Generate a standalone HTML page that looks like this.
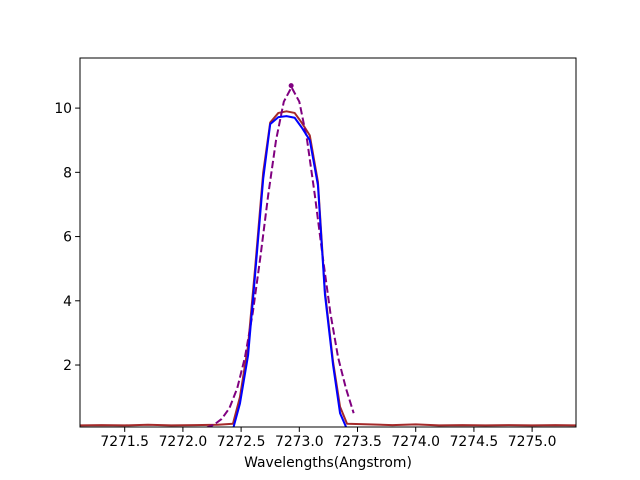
<!DOCTYPE html>
<html><head><meta charset="utf-8"><style>
html,body{margin:0;padding:0;background:#fff;}
svg{display:block;font-family:"DejaVu Sans","Liberation Sans",sans-serif;}
</style></head><body>
<svg id="chart" width="640" height="480">
<rect width="640" height="480" fill="#fff"/>
<g id="plot"></g>
<rect x="80" y="58" width="496" height="369" fill="none" stroke="#000" stroke-width="1"/>
<g id="axes"></g>
<text x="328" y="467" text-anchor="middle" font-size="13.9">Wavelengths(Angstrom)</text>
</svg>
<script>
const xTicks = [7271.5, 7272.0, 7272.5, 7273.0, 7273.5, 7274.0, 7274.5, 7275.0];
const yTicks = [2, 4, 6, 8, 10];
const redW = [7271.12,7271.3,7271.5,7271.7,7271.9,7272.1,7272.3,7272.43,7272.49,7272.56,7272.62,7272.69,7272.75,7272.82,7272.89,7272.96,7273.02,7273.09,7273.16,7273.22,7273.29,7273.35,7273.41,7273.6,7273.8,7274.0,7274.2,7274.4,7274.6,7274.8,7275.0,7275.2,7275.38];
const redV = [0.12,0.13,0.12,0.14,0.12,0.13,0.14,0.17,1.0,2.6,5.0,8.0,9.55,9.85,9.9,9.85,9.55,9.15,7.7,4.3,2.1,0.7,0.17,0.15,0.13,0.15,0.12,0.13,0.12,0.13,0.12,0.13,0.12];
const blueW = [7272.43,7272.49,7272.56,7272.62,7272.69,7272.75,7272.82,7272.89,7272.96,7273.02,7273.09,7273.16,7273.22,7273.29,7273.35,7273.41];
const blueV = [0.0,0.8,2.3,4.8,7.8,9.5,9.72,9.75,9.7,9.4,9.0,7.6,4.2,2.0,0.5,0.0];
const purpleW = [7272.20,7272.267,7272.333,7272.40,7272.467,7272.533,7272.60,7272.667,7272.733,7272.80,7272.867,7272.933,7273.0,7273.067,7273.133,7273.20,7273.267,7273.333,7273.40,7273.467];
const purpleV = [0.05,0.14,0.32,0.66,1.28,2.24,3.62,5.4,7.3,9.0,10.2,10.65,10.2,9.0,7.3,5.4,3.62,2.24,1.28,0.5];
const peakW = [7272.93];
const peakV = [10.7];

const X0=80,X1=576,Y0=427,Y1=58;
const xMin=7271.116,xMax=7275.377,yMin=0.07,yMax=11.56;
const sx=w=>X0+(w-xMin)/(xMax-xMin)*(X1-X0);
const sy=v=>Y0-(v-yMin)/(yMax-yMin)*(Y0-Y1);
const NS="http://www.w3.org/2000/svg";
const plot=document.getElementById('plot');
const axes=document.getElementById('axes');
const clip=document.createElementNS(NS,'clipPath');clip.id='c';
const cr=document.createElementNS(NS,'rect');
cr.setAttribute('x',X0);cr.setAttribute('y',Y1);cr.setAttribute('width',X1-X0);cr.setAttribute('height',Y0-Y1);
clip.appendChild(cr);plot.appendChild(clip);
plot.setAttribute('clip-path','url(#c)');
function line(W,V,color,name,dash,width){
  const p=document.createElementNS(NS,'polyline');
  p.setAttribute('points',W.map((w,i)=>sx(w).toFixed(2)+','+sy(V[i]).toFixed(2)).join(' '));
  p.setAttribute('fill','none');p.setAttribute('stroke',color);p.setAttribute('stroke-width',width);
  p.setAttribute('stroke-linejoin','round');
  if(dash)p.setAttribute('stroke-dasharray',dash);
  
  
  plot.appendChild(p);
}
line(redW,redV,'#a52a2a','red-series',null,2);
line(purpleW,purpleV,'#800080','purple-dashed-series','7.4,3.2',2);
line(blueW,blueV,'#0000ff','blue-series',null,2);
peakW.forEach((w,i)=>{
  const c=document.createElementNS(NS,'circle');
  c.setAttribute('cx',sx(w));c.setAttribute('cy',sy(peakV[i]));c.setAttribute('r',2.5);c.setAttribute('fill','#800080');
  
  
  plot.appendChild(c);
});
xTicks.forEach(t=>{
  const x=sx(t);
  const l=document.createElementNS(NS,'line');
  l.setAttribute('x1',x);l.setAttribute('x2',x);l.setAttribute('y1',Y0);l.setAttribute('y2',Y0+4.9);l.setAttribute('stroke','#000');
  
  
  axes.appendChild(l);
  const tx=document.createElementNS(NS,'text');
  tx.setAttribute('x',x);tx.setAttribute('y',Y0+19);tx.setAttribute('text-anchor','middle');tx.setAttribute('font-size','13.9');
  tx.textContent=t.toFixed(1);
  
  
  axes.appendChild(tx);
});
yTicks.forEach(t=>{
  const y=sy(t);
  const l=document.createElementNS(NS,'line');
  l.setAttribute('x1',X0-4.9);l.setAttribute('x2',X0);l.setAttribute('y1',y);l.setAttribute('y2',y);l.setAttribute('stroke','#000');
  
  
  axes.appendChild(l);
  const tx=document.createElementNS(NS,'text');
  tx.setAttribute('x',X0-8);tx.setAttribute('y',y+5);tx.setAttribute('text-anchor','end');tx.setAttribute('font-size','13.9');
  tx.textContent=t;
  
  
  axes.appendChild(tx);
});
</script>
</body></html>
